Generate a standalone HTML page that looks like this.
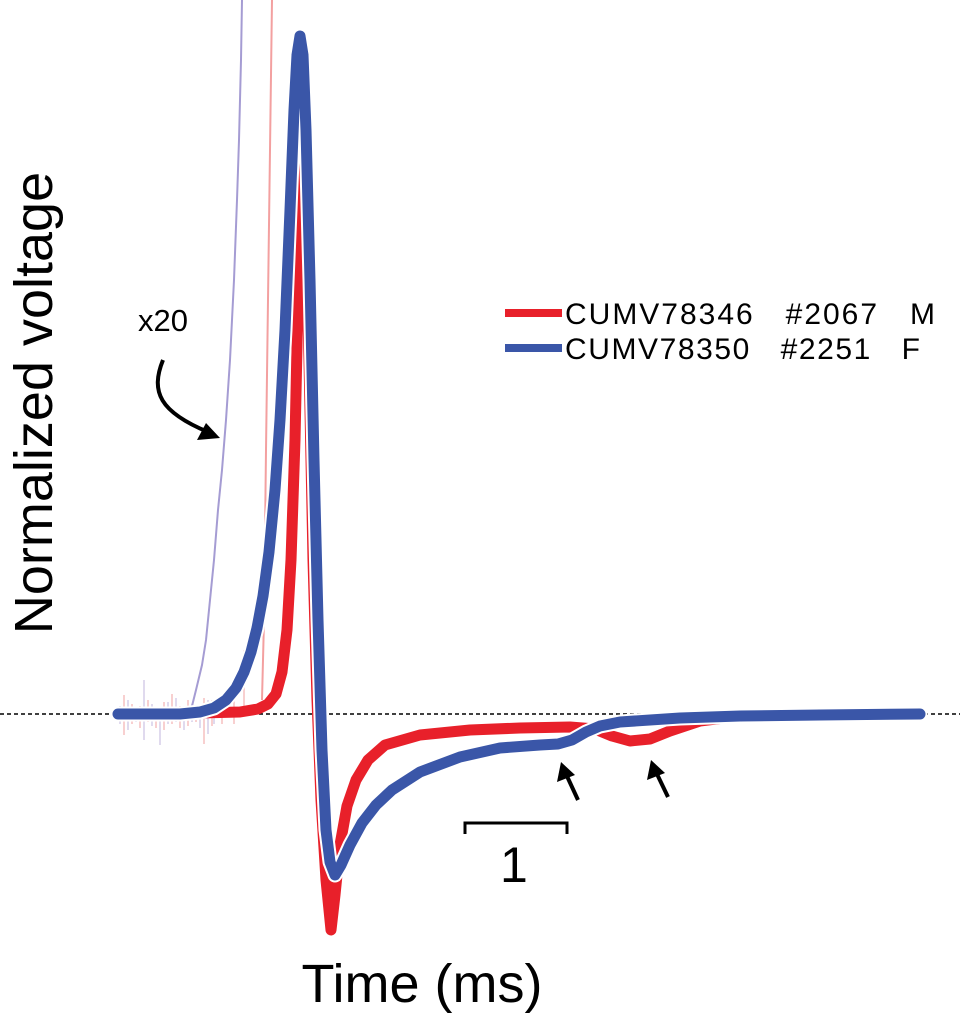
<!DOCTYPE html>
<html><head><style>body{margin:0;background:#fff}svg{display:block}</style></head><body>
<svg width="960" height="1015" viewBox="0 0 960 1015" xmlns="http://www.w3.org/2000/svg" font-family="Liberation Sans, sans-serif">
<line x1="0" y1="714" x2="960" y2="714" stroke="#000" stroke-width="1.5" stroke-dasharray="4,3"/>
<g stroke-width="1.5" opacity="0.55">
<path d="M120 706V724M128 700V730M136 708V722M144 680V740M152 704V726M160 710V745M168 702V724M176 698V722M184 706V730M192 704V722M200 708V728M208 700V734M214 706V724" stroke="#b3a7d8"/>
<path d="M124 695V735M132 704V724M140 706V728M148 700V722M156 708V728M164 702V730M172 694V724M180 706V728M188 700V726M196 708V722M204 698V744M212 700V726M222 708V724M234 690V724M244 650V712" stroke="#f0908f"/>
</g>
<path d="M190 714 L196 690 L202 665 L206 640 L210 600 L214 560 L218 510 L222 470 L226 420 L230 360 L234 280 L237 200 L239 140 L241 60 L242 0" fill="none" stroke="#a59cd3" stroke-width="2"/>
<path d="M262 700 L264 620 L266 450 L268 300 L270 150 L272 0" fill="none" stroke="#f3a0a0" stroke-width="2"/>
<path d="M312 300 L318 500 L324 714" fill="none" stroke="#f3a0a0" stroke-width="2"/>
<!-- red -->
<path d="M118 714 L200 713 L240 712 L258 709 L268 704 L276 694 L282 672 L287 630 L291 560 L295 440 L298 300 L300 180 L302 125 L305 180 L309 360 L313 560 L317 700 L321 800 L326 880 L331 930 L335 895 L340 845 L347 806 L356 780 L368 760 L385 745 L420 735 L470 730 L520 728 L570 727 L595 729 L612 736 L630 741 L650 739 L670 731 L700 721 L740 716 L800 715 L920 714" fill="none" stroke="#e8202a" stroke-width="11" stroke-linejoin="round" stroke-linecap="round"/>
<!-- blue -->
<g fill="none" stroke-linejoin="round" stroke-linecap="round">
<path id="b" d="M118 714 L180 714 L200 712 L214 708 L226 700 L236 688 L244 672 L251 652 L257 628 L263 596 L269 552 L275 490 L280 420 L285 330 L290 210 L294 110 L297 55 L300 36 L303 55 L306 130 L310 280 L314 460 L318 620 L322 750 L326 830 L330 862 L335 875 L341 865 L350 845 L362 823 L376 805 L392 790 L420 772 L460 757 L500 748 L540 745 L558 744 L572 740 L586 732 L600 726 L620 722 L650 720 L680 718 L740 716 L820 715 L920 714" stroke="#fff" stroke-width="15"/>
<path d="M118 714 L180 714 L200 712 L214 708 L226 700 L236 688 L244 672 L251 652 L257 628 L263 596 L269 552 L275 490 L280 420 L285 330 L290 210 L294 110 L297 55 L300 36 L303 55 L306 130 L310 280 L314 460 L318 620 L322 750 L326 830 L330 862 L335 875 L341 865 L350 845 L362 823 L376 805 L392 790 L420 772 L460 757 L500 748 L540 745 L558 744 L572 740 L586 732 L600 726 L620 722 L650 720 L680 718 L740 716 L820 715 L920 714" stroke="#3a56a8" stroke-width="11"/>
</g>
<text x="138" y="331" font-size="31">x20</text>
<path d="M163 360 C150 392 160 412 208 432" fill="none" stroke="#000" stroke-width="4"/>
<path d="M220 438 L197 440 L206 423 Z" fill="#000"/>
<path d="M578 800 L566 774" stroke="#000" stroke-width="4"/><path d="M561 762 L557 782 L575 775 Z" fill="#000"/>
<path d="M668 797 L656 772" stroke="#000" stroke-width="4"/><path d="M651 760 L647 780 L665 773 Z" fill="#000"/>
<path d="M465 834 V823 H567 V834" fill="none" stroke="#000" stroke-width="3"/>
<text x="500" y="882" font-size="50">1</text>
<line x1="505" y1="313" x2="562" y2="313" stroke="#e8202a" stroke-width="8"/>
<line x1="505" y1="348" x2="562" y2="348" stroke="#3a56a8" stroke-width="8"/>
<text x="565" y="324" font-size="30" xml:space="preserve" textLength="370">CUMV78346   #2067   M</text>
<text x="565" y="359" font-size="30" xml:space="preserve" textLength="355">CUMV78350   #2251   F</text>
<text transform="translate(52,403) rotate(-90)" text-anchor="middle" font-size="54">Normalized voltage</text>
<text x="422" y="1002" text-anchor="middle" font-size="54">Time (ms)</text>
</svg>
</body></html>
